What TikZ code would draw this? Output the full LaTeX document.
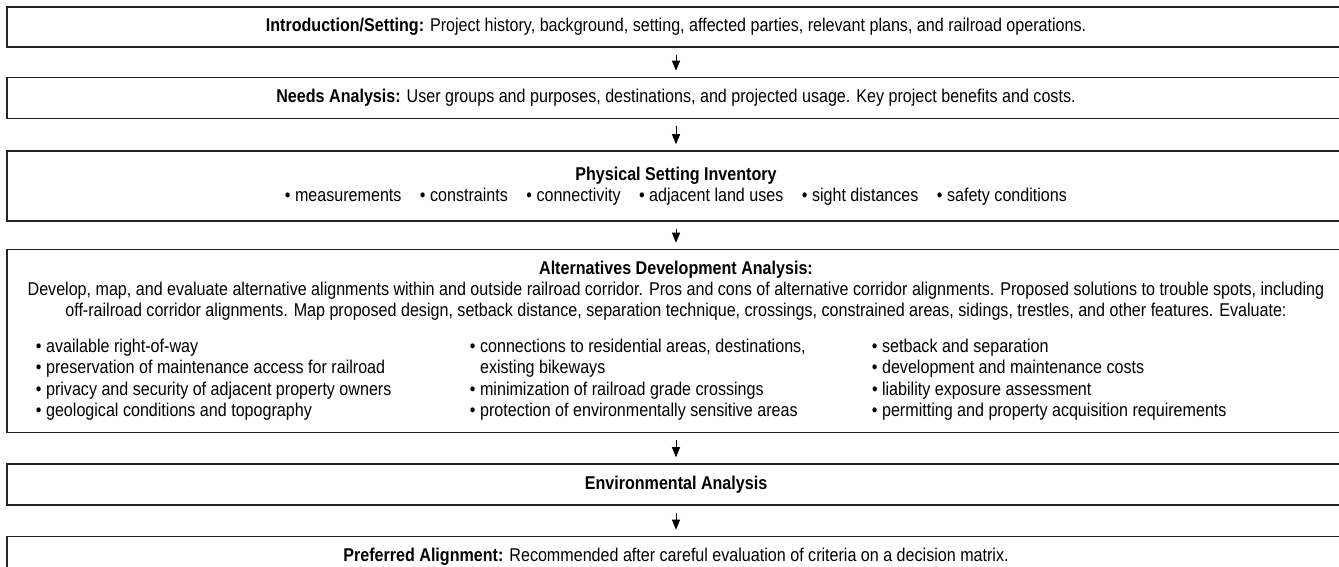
\documentclass[tikz,border=0pt]{standalone}
\usepackage{fontspec}
\setmainfont[FakeStretch=0.87]{Liberation Sans}
\usetikzlibrary{positioning,arrows.meta}
\definecolor{FrameColor}{RGB}{35,35,35}

\begin{document}
\begin{tikzpicture}[x=1pt, y=1pt,
    stage/.style={draw=FrameColor, line width=1.5pt, minimum width=1338pt,
    inner sep=0pt, align=center, font=\fontsize{18.5}{21.5}\selectfont},
    flow/.style={-{Triangle[width=8pt,length=10pt]}, line width=0.9pt,
    shorten <=7pt, shorten >=6pt}]

    \useasboundingbox (0,0) rectangle (1339,567);

    \node[stage, minimum height=40pt] at (676,540) (Intro)
        {\textbf{Introduction/Setting:} Project history, background, setting, affected parties, relevant plans, and railroad operations.};
    \node[stage, minimum height=41pt, below=29pt of Intro] (Needs)
        {\textbf{Needs Analysis:} User groups and purposes, destinations, and projected usage. Key project benefits and costs.};
    \node[stage, minimum height=70pt, below=31pt of Needs] (Inventory)
        {\textbf{Physical Setting Inventory}\\
        • measurements\quad • constraints\quad • connectivity\quad • adjacent land uses\quad • sight distances\quad • safety conditions};
    \node[stage, minimum height=183pt, below=27pt of Inventory] (Alternatives)
        {\textbf{Alternatives Development Analysis:}\\[-1pt]
        Develop, map, and evaluate alternative alignments within and outside railroad corridor. Pros and cons of alternative corridor alignments. Proposed solutions to trouble spots, including\\
        off-railroad corridor alignments. Map proposed design, setback distance, separation technique, crossings, constrained areas, sidings, trestles, and other features. Evaluate:\\[14pt]
        \begin{minipage}[t]{434pt}\raggedright
            • available right-of-way\\
            • preservation of maintenance access for railroad\\
            • privacy and security of adjacent property owners\\
            • geological conditions and topography
        \end{minipage}%
        \begin{minipage}[t]{402pt}\raggedright
            • connections to residential areas, destinations,\\
            \phantom{• }existing bikeways\\
            • minimization of railroad grade crossings\\
            • protection of environmentally sensitive areas
        \end{minipage}%
        \begin{minipage}[t]{444pt}\raggedright
            • setback and separation\\
            • development and maintenance costs\\
            • liability exposure assessment\\
            • permitting and property acquisition requirements
        \end{minipage}};
    \node[stage, minimum height=41pt, below=30pt of Alternatives] (Environment)
        {\textbf{Environmental Analysis}};
    \node[stage, minimum height=40pt, below=30pt of Environment] (Preferred)
        {\textbf{Preferred Alignment:} Recommended after careful evaluation of criteria on a decision matrix.};

    \foreach \from/\to in {Intro/Needs, Needs/Inventory, Inventory/Alternatives,
        Alternatives/Environment, Environment/Preferred}
    \draw [flow] (\from)--(\to);

\end{tikzpicture}
\end{document}
